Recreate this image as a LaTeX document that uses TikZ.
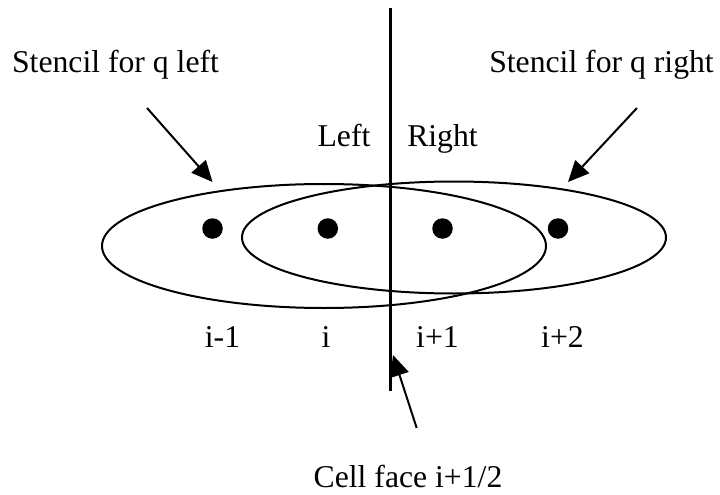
\documentclass[tikz,border=0pt]{standalone}
\usepackage{fontspec}
\setmainfont{Liberation Serif}
\usetikzlibrary{arrows.meta}
\begin{document}
\begin{tikzpicture}[x=1pt,y=-1pt,
  lbl/.style={anchor=base,inner sep=0pt,font=\fontsize{31.7}{38}\selectfont},
  pointer/.style={line width=2pt,-{Triangle[length=21pt,width=19pt]}},
  stencil/.style={line width=2pt},
  dot/.style={circle,fill=black,inner sep=0pt,minimum size=20.5pt}]
\useasboundingbox (0,0) rectangle (720,495);
% stencils
\draw[stencil] (324,246) ellipse [x radius=222pt, y radius=62pt];
\draw[stencil] (454,237.5) ellipse [x radius=212pt, y radius=56pt];
% face
\coordinate (ftop) at (390,8);
\coordinate (fbot) at (390,391);
\draw[line width=3pt] (ftop) -- (fbot);
% points
\node[dot] (p1) at (212.5,228.5) {};
\node[dot] (p2) at (327.8,228.5) {};
\node[dot] (p3) at (442.5,228.5) {};
\node[dot] (p4) at (558,228.5) {};
% labels
\node[lbl] (sl) at (115.5,72) {Stencil for q left};
\node[lbl] (sr) at (601.5,72) {Stencil for q right};
\node[lbl] (lf) at (344,146) {Left};
\node[lbl] (rt) at (442.5,146) {Right};
\node[lbl] (l1) at (222.5,347) {i-1};
\node[lbl] (l2) at (326,347) {i};
\node[lbl] (l3) at (437.5,347) {i+1};
\node[lbl] (l4) at (562.5,347) {i+2};
\node[lbl] (cf) at (408,487) {Cell face i+1/2};
% arrows
\coordinate (a1s) at (147,108);
\coordinate (a1e) at (212.5,182);
\coordinate (a2s) at (637,108);
\coordinate (a2e) at (568,182);
\coordinate (a3s) at (416.7,428);
\coordinate (a3e) at (393,355);
\draw[pointer] (a1s) -- (a1e);
\draw[pointer] (a2s) -- (a2e);
\draw[pointer] (a3s) -- (a3e);
\end{tikzpicture}
\end{document}
